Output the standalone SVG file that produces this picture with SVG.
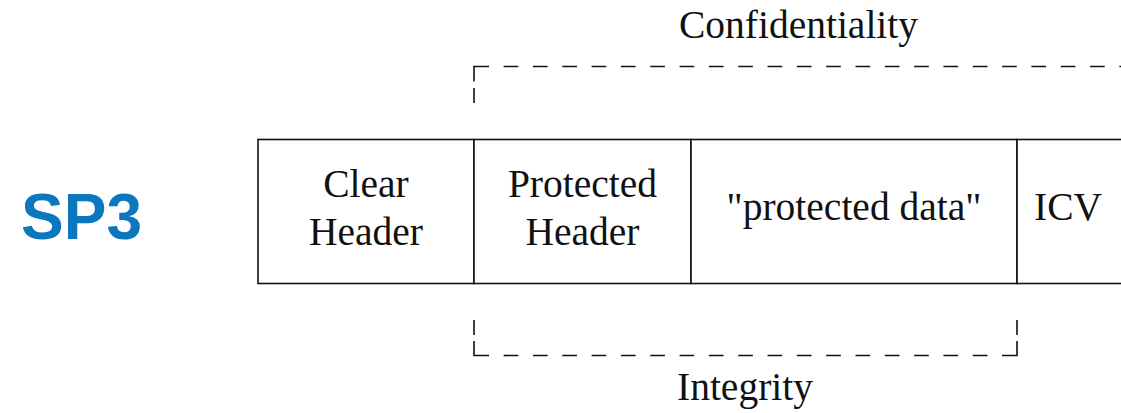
<svg xmlns="http://www.w3.org/2000/svg" width="1121" height="413" viewBox="0 0 1121 413">
  <style>
    .t { font-family: "Liberation Serif", "Times New Roman", serif; font-size: 39.5px; fill: #111; text-anchor: middle; }
    .box { fill: #fff; stroke: #111; stroke-width: 1.6; }
    .br { fill: none; stroke: #111; stroke-width: 1.6; }
    .dash { fill: none; stroke: #111; stroke-width: 1.6; stroke-dasharray: 14.66 14.66; stroke-dashoffset: 14.66; }
    .sp { font-family: "Liberation Sans", Arial, sans-serif; font-weight: bold; font-size: 64px; fill: #0b78be; }
  </style>
  <rect width="1121" height="413" fill="#fff"/>
  <text class="sp" x="21" y="239">SP3</text>
  <g id="clear-header">
    <rect class="box" x="258" y="139.5" width="216" height="144"/>
    <text class="t" x="366" y="197">Clear</text>
    <text class="t" x="366" y="245">Header</text>
  </g>
  <g id="protected-header">
    <rect class="box" x="474" y="139.5" width="217" height="144"/>
    <text class="t" x="582.5" y="197">Protected</text>
    <text class="t" x="582.5" y="245">Header</text>
  </g>
  <g id="protected-data">
    <rect class="box" x="691" y="139.5" width="326" height="144"/>
    <text class="t" x="854" y="220">"protected data"</text>
  </g>
  <g id="icv">
    <rect class="box" x="1017" y="139.5" width="110" height="144"/>
    <text class="t" x="1068" y="220">ICV</text>
  </g>
  <g id="connectors">
    <g id="confidentiality">
      <line class="br" x1="474" y1="88" x2="474" y2="103"/>
      <polyline class="br" points="474,81.5 474,66.5 489,66.5"/>
      <line class="dash" x1="489" y1="66.5" x2="1121" y2="66.5"/>
      <text class="t" x="798.5" y="38">Confidentiality</text>
    </g>
    <g id="integrity">
      <line class="br" x1="474" y1="320" x2="474" y2="335"/>
      <polyline class="br" points="474,341 474,355.5 489,355.5"/>
      <line class="dash" x1="489" y1="355.5" x2="1002" y2="355.5"/>
      <polyline class="br" points="1002,355.5 1017,355.5 1017,341"/>
      <line class="br" x1="1017" y1="320" x2="1017" y2="335"/>
      <text class="t" x="745" y="400">Integrity</text>
    </g>
  </g>
</svg>
